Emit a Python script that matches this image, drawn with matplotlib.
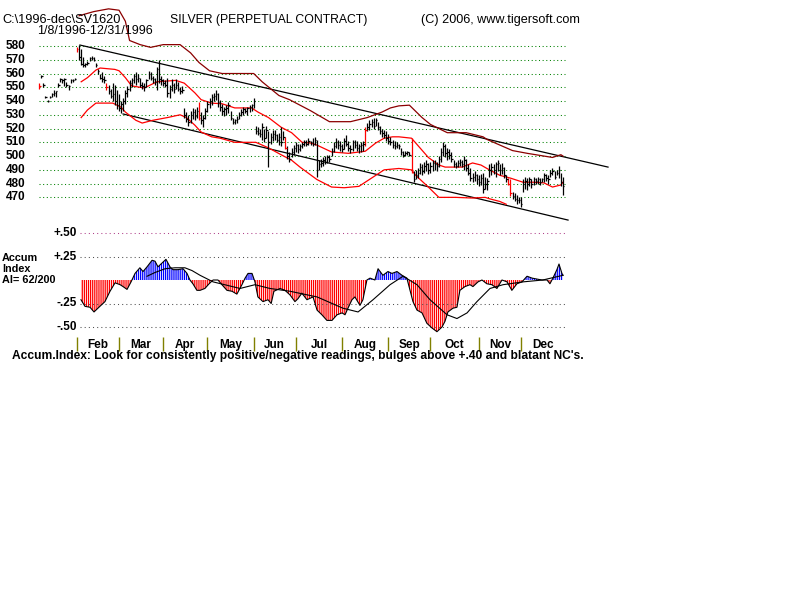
import numpy as np
import pandas as pd

import matplotlib
matplotlib.use("Agg")

import matplotlib.pyplot as plt
from matplotlib import transforms

plt.rcParams["font.family"] = ["Liberation Sans", "DejaVu Sans"]
plt.rcParams["hatch.linewidth"] = 0.9

# trading days 1/8/1996 - 12/31/1996 (exchange holidays removed)
holidays = ["1996-02-19", "1996-04-05", "1996-05-27", "1996-07-04",
            "1996-09-02", "1996-11-28", "1996-12-25"]

# daily bars, one line per month
lo = [
    549, 557, 550, 542, 539, 542, 543, 544, 543, 550, 554, 553, 551, 550, 548, 553, 554, 555,
    576, 570, 566, 565, 565, 566, 569, 570, 569, 565, 560, 556, 554, 553, 548, 545, 542, 540, 537, 534,
    533, 531, 533, 538, 543, 547, 550, 553, 552, 554, 550, 549, 547, 550, 556, 555, 553, 552, 548, 553, 552,
    551, 550, 543, 542, 547, 546, 549, 547, 545, 546, 528, 525, 522, 524, 527, 526, 528, 526, 523, 521, 527,
    532, 535, 537, 540, 541, 536, 533, 530, 529, 530, 531, 526, 523, 523, 524, 527, 529, 530, 531, 530, 532, 533,
    535, 516, 515, 514, 512, 510, 513, 492, 509, 511, 512, 510, 508, 507, 512, 505, 498, 496, 499, 501,
    503, 502, 504, 506, 507, 507, 508, 508, 507, 508, 485, 490, 492, 493, 494, 495, 496, 500, 503, 506, 505, 504,
    503, 505, 507, 504, 502, 504, 506, 504, 502, 503, 504, 507, 518, 519, 521, 520, 522, 519, 516, 514, 513, 511,
    509, 508, 506, 505, 506, 505, 501, 499, 500, 501, 500, 488, 481, 483, 484, 487, 486, 488, 489, 487,
    488, 489, 490, 489, 492, 496, 500, 499, 497, 498, 496, 492, 491, 492, 493, 492, 490, 489, 486, 482, 481, 482, 480,
    478, 479, 473, 476, 475, 485, 486, 487, 485, 489, 486, 487, 484, 481, 479, 471, 469, 467, 465, 466,
    463, 474, 476, 475, 478, 477, 479, 480, 480, 479, 481, 481, 482, 480, 485, 486, 483, 486, 484, 478, 472,
]
hi = [
    553, 559, 553, 544, 541, 544, 546, 548, 547, 553, 557, 556, 557, 554, 552, 556, 556, 557,
    579, 581, 578, 572, 568, 569, 572, 573, 572, 568, 563, 560, 561, 558, 553, 552, 549, 553, 552, 548,
    545, 540, 542, 548, 551, 555, 557, 560, 561, 560, 557, 554, 553, 556, 562, 561, 558, 557, 565, 570, 558,
    556, 555, 557, 552, 556, 553, 556, 554, 550, 551, 535, 532, 530, 533, 535, 534, 536, 539, 532, 530, 535,
    540, 542, 545, 546, 548, 546, 541, 538, 536, 537, 539, 533, 528, 527, 529, 532, 534, 536, 535, 536, 537, 538,
    542, 522, 521, 520, 524, 520, 522, 518, 517, 519, 519, 516, 517, 521, 518, 514, 507, 503, 506, 508,
    510, 509, 509, 510, 512, 512, 513, 511, 513, 514, 512, 497, 498, 499, 500, 501, 501, 506, 510, 513, 512, 511,
    509, 513, 515, 511, 508, 512, 512, 511, 509, 510, 511, 521, 524, 526, 527, 528, 528, 525, 522, 520, 519, 518,
    516, 514, 512, 511, 510, 509, 506, 504, 504, 504, 503, 513, 489, 490, 491, 495, 494, 496, 497, 495,
    496, 497, 497, 496, 500, 506, 510, 509, 506, 505, 503, 497, 496, 497, 498, 497, 500, 498, 494, 491, 488, 489, 487,
    486, 487, 488, 485, 484, 494, 495, 494, 496, 497, 494, 495, 492, 486, 484, 483, 474, 473, 472, 470,
    470, 483, 485, 484, 485, 483, 485, 484, 485, 484, 484, 488, 487, 486, 490, 491, 489, 490, 493, 488, 485,
]
close = [
    551, 558, 552, 543, 540, 543, 545, 546, 547, 552, 556, 555, 556, 552, 551, 555, 555, 556,
    578, 572, 567, 566, 567, 568, 571, 571, 570, 566, 562, 557, 556, 555, 550, 547, 544, 545, 540, 537,
    535, 538, 540, 546, 549, 553, 555, 558, 556, 557, 552, 551, 550, 555, 560, 557, 556, 554, 563, 556, 555,
    553, 552, 546, 549, 552, 549, 552, 549, 547, 548, 530, 527, 525, 530, 532, 529, 533, 528, 526, 528, 533,
    538, 540, 543, 544, 545, 539, 536, 533, 534, 535, 537, 528, 525, 526, 527, 530, 532, 534, 533, 535, 536, 537,
    540, 518, 517, 516, 521, 513, 519, 510, 514, 516, 515, 512, 514, 510, 514, 506, 500, 498, 503, 506,
    508, 505, 507, 509, 510, 509, 511, 510, 509, 512, 490, 494, 495, 497, 496, 499, 498, 504, 507, 510, 508, 507,
    505, 511, 509, 506, 505, 510, 508, 506, 507, 508, 509, 519, 521, 523, 525, 522, 526, 521, 518, 517, 515, 513,
    511, 510, 508, 507, 508, 507, 503, 501, 502, 503, 501, 490, 483, 486, 488, 492, 489, 493, 494, 490,
    493, 495, 494, 493, 498, 503, 507, 502, 503, 501, 498, 494, 493, 495, 496, 494, 497, 491, 488, 484, 485, 486, 483,
    481, 484, 476, 480, 482, 490, 492, 490, 494, 495, 490, 491, 486, 483, 480, 473, 471, 469, 468, 468,
    465, 480, 482, 480, 483, 480, 483, 482, 483, 481, 483, 486, 484, 483, 488, 489, 485, 488, 490, 481, 478,
]
red_bars = [0, 18, 32, 76, 117, 155, 177, 223, 224]

# bands around the price (day index, value)
upper_d = [19, 26, 33, 38, 41, 43, 48, 53, 59, 67, 72, 76, 81, 87, 102, 106, 110, 114, 119, 129,
           138, 148, 156, 163, 167, 171, 176, 182, 186, 194, 200, 203, 211, 213, 216, 225, 232, 244, 248, 249]
upper_v = [602, 605, 607, 606, 598, 584, 581, 579, 581, 581, 575, 568, 562, 560, 560, 554, 549, 544, 541, 533,
           525, 525, 528, 532, 535, 536.5, 537, 528, 523, 517, 517, 517, 514, 512, 510, 504, 502, 499, 501, 500]
mid_d = [20, 23, 27, 29, 36, 38, 41, 44, 50, 56, 65, 69, 74, 77, 82, 87, 93, 101, 104, 109,
         115, 120, 125, 129, 132, 139, 147, 155, 160, 164, 168, 171, 177, 179, 185, 190, 193, 201, 206, 210,
         214, 219, 224, 230, 235, 240, 244, 248, 249]
mid_v = [554, 557, 562.5, 564, 563, 562, 557, 551, 549.5, 554, 555, 553, 546, 541, 538.5, 538, 535, 535, 532, 528,
         521, 517, 510, 509.5, 508, 503, 502, 503.5, 509.5, 513, 514, 514, 513, 509.5, 499, 493.5, 492, 492, 495, 493.5,
         490, 486, 484, 481, 481, 480.5, 477.5, 479, 481]
lowb_d = [20, 23, 27, 35, 39, 41, 46, 49, 54, 61, 67, 70, 74, 77, 82, 86, 93, 103, 109, 115,
          120, 124, 132, 139, 145, 152, 158, 164, 171, 177, 179, 185, 190, 198, 206, 212, 214, 219, 222]
lowb_v = [528, 533.5, 538.5, 538.5, 535.5, 532, 526, 524, 526, 528, 530, 528, 522.5, 517.5, 514, 513, 510, 510, 506, 501,
          497, 492, 483, 477.5, 477, 478, 484, 490, 491, 490, 486, 477.5, 470, 470, 469.5, 470, 469, 467, 465]

# trend channel
trend_up_d = [19.4, 270.4]
trend_up_v = [580.7, 492]
trend_lo_d = [39.9, 251.4]
trend_lo_v = [530.6, 453.5]

price_levels = [580, 570, 560, 550, 540, 530, 520, 510, 500, 490, 480, 470]

# accumulation index and its moving average
ai_d = [19.9, 21.8, 24.2, 26.1, 28.9, 31.3, 33.7, 36.1, 38.5, 39.9,
        41.8, 43.7, 45.6, 47.9, 49.4, 51.3, 53.7, 55.1, 56.5, 58.4,
        60.3, 62.2, 63.6, 66.0, 68.4, 70.3, 71.7, 73.1, 75.0, 76.5,
        78.8, 80.8, 82.7, 85.0, 86.9, 89.3, 91.7, 94.0, 96.4, 97.9,
        99.3, 101.2, 102.6, 104.0, 106.4, 108.8, 110.3, 111.6, 114.5, 116.9,
        119.3, 121.6, 123.0, 124.9, 127.3, 130.2, 132.1, 134.4, 136.8, 139.2,
        141.6, 144.0, 145.4, 146.8, 148.7, 150.1, 152.5, 153.9, 155.8, 157.3,
        159.6, 161.1, 163.4, 165.8, 167.7, 170.1, 172.5, 174.8, 176.3, 177.7,
        179.6, 182.0, 184.3, 186.7, 189.1, 191.5, 192.9, 194.3, 196.7, 198.6,
        200.0, 202.4, 204.8, 206.2, 208.6, 210.5, 212.8, 215.2, 217.6, 220.0,
        222.4, 224.7, 227.1, 229.5, 231.9, 234.3, 236.6, 239.0, 241.4, 242.8,
        244.2, 246.1, 247.1, 248.5, 249.0]
ai_v = [-0.21, -0.28, -0.29, -0.34, -0.28, -0.23, -0.12, -0.03, -0.05, -0.07,
        -0.10, -0.02, 0.07, 0.13, 0.09, 0.14, 0.21, 0.20, 0.14, 0.18,
        0.22, 0.14, 0.11, 0.11, 0.12, 0.07, 0.0, -0.04, -0.11, -0.11,
        -0.09, -0.04, 0.0, 0.0, -0.05, -0.11, -0.12, -0.15, -0.05, 0.02,
        0.07, 0.07, -0.02, -0.18, -0.23, -0.21, -0.25, -0.12, -0.09, -0.11,
        -0.16, -0.23, -0.20, -0.14, -0.21, -0.18, -0.32, -0.37, -0.43, -0.43,
        -0.37, -0.35, -0.37, -0.30, -0.21, -0.18, -0.27, -0.21, 0.0, 0.02,
        0.0, 0.12, 0.05, 0.09, 0.07, 0.09, 0.05, 0.02, -0.11, -0.23,
        -0.32, -0.35, -0.46, -0.51, -0.55, -0.50, -0.44, -0.34, -0.30, -0.29,
        -0.11, -0.07, -0.05, -0.07, -0.02, 0.0, -0.04, -0.05, -0.09, 0.0,
        -0.02, -0.11, -0.04, -0.02, 0.04, 0.02, 0.01, 0.0, 0.0, -0.04,
        0.02, 0.11, 0.17, 0.07, 0.05]
ma_d = [51.3, 55.1, 59.9, 64.6, 69.3, 72.7, 76.5, 82.7, 95.5, 102.6,
        109.7, 119.3, 132.1, 144.4, 151.6, 158.7, 166.8, 173.0, 179.6, 185.8,
        193.9, 198.6, 203.4, 208.1, 214.3, 220.5, 230.0, 239.4, 249.0]
ma_v = [0.04, 0.08, 0.12, 0.13, 0.13, 0.10, 0.05, -0.02, -0.09, -0.05,
        -0.09, -0.12, -0.18, -0.30, -0.34, -0.21, -0.05, 0.04, -0.05, -0.21,
        -0.37, -0.41, -0.35, -0.23, -0.09, -0.05, -0.02, 0.0, 0.05]

ai_levels = [0.50, 0.25, -0.25, -0.50]
ai_labels = ["+.50", "+.25", "-.25", "-.50"]


W, H = 800, 600
PX_DAY = 2.104
X0 = 39.1

fig = plt.figure(figsize=(8, 6), dpi=100)
fig.patch.set_facecolor("white")


def put(x, y, s, **kw):
    fig.text(x / W, 1 - y / H, s, **kw)


dates = pd.bdate_range("1996-01-08", "1996-12-31", freq="C", holidays=holidays)
days = np.arange(len(hi))
starts = list(np.flatnonzero(np.diff(dates.month) != 0) + 1)

# ---- price panel
ax = fig.add_axes([0, 1 - 225 / H, 1, 225 / H])
ax.axis("off")
ax.set_xlim(-X0 / PX_DAY, (W - X0) / PX_DAY)
ax.set_ylim(580 - 179 / 1.376, 580 + 46 / 1.376)

ax.hlines(price_levels, -0.2, 250, colors="#008000", linestyles=(0, (1, 2.5)), lw=0.75)
lab = transforms.blended_transform_factory(fig.transFigure, ax.transData)
for v in price_levels:
    ax.text(25 / W, v, str(v), transform=lab, ha="right", va="center",
            fontsize=8.5, fontweight="bold")

ax.plot(trend_up_d, trend_up_v, color="black", lw=0.9)
ax.plot(trend_lo_d, trend_lo_v, color="black", lw=0.9)
ax.plot(upper_d, upper_v, color="#8b0000", lw=0.9)
ax.plot(mid_d, mid_v, color="#ff0000", lw=0.9)
ax.plot(lowb_d, lowb_v, color="#ff0000", lw=0.9)

cols = ["#ff0000" if d in red_bars else "black" for d in days]
ax.vlines(days, lo, hi, colors=cols, lw=0.9)
ax.hlines(close, days, days + 0.7, colors=cols, lw=0.9)

# ---- accumulation index panel
ax2 = fig.add_axes([0, 1 - 365 / H, 1, 140 / H])
ax2.axis("off")
ax2.set_xlim(ax.get_xlim())
ax2.set_ylim(-85 / 94, 55 / 94)

grid_cols = ["#b0408a", "#505050", "#505050", "#505050"]
lab2 = transforms.blended_transform_factory(fig.transFigure, ax2.transData)
for v, c, t in zip(ai_levels, grid_cols, ai_labels):
    ax2.hlines(v, (80 - X0) / PX_DAY, 250, colors=c, linestyles=(0, (1, 3)), lw=0.75)
    ax2.text(77 / W, v, t, transform=lab2, ha="right", va="center",
             fontsize=8.5, fontweight="bold")

ai_d = np.array(ai_d)
ai_v = np.array(ai_v)
ax2.fill_between(ai_d, 0, ai_v, where=ai_v >= 0, interpolate=True, facecolor="none",
                 edgecolor="#0000ff", hatch="|" * 8, linewidth=0)
ax2.fill_between(ai_d, 0, ai_v, where=ai_v <= 0, interpolate=True, facecolor="none",
                 edgecolor="#ff0000", hatch="|" * 8, linewidth=0)
ax2.plot(ai_d, ai_v, color="black", lw=0.8)
ax2.plot(ma_d, ma_v, color="black", lw=0.8)

ends = starts[1:] + [len(days)]
ax2.vlines(starts, -0.606, -0.755, colors="#808000", lw=1.0)
for s, e in zip(starts, ends):
    ax2.text((s + e) / 2, -0.69, dates[s].strftime("%b"), ha="center", va="center",
             fontsize=8.5, fontweight="bold")

# ---- texts
put(2, 20, "C:\\1996-dec\\SV1620", fontsize=9.2, va="center")
put(37, 31, "1/8/1996-12/31/1996", fontsize=9.0, va="center")
put(170, 20, "SILVER (PERPETUAL CONTRACT)", fontsize=8.8, va="center")
put(421, 20, "(C) 2006, www.tigersoft.com", fontsize=9.1, va="center")

put(2, 258, "Accum", fontsize=7.8, fontweight="bold", va="center")
put(2, 269, "Index", fontsize=7.8, fontweight="bold", va="center")
put(2, 280, "AI= 62/200", fontsize=7.8, fontweight="bold", va="center")
put(12, 356, "Accum.Index: Look for consistently positive/negative readings, bulges above +.40 and blatant NC's.",
    fontsize=8.65, fontweight="bold", va="center")

fig.savefig("out.png", dpi=100, facecolor="white")
